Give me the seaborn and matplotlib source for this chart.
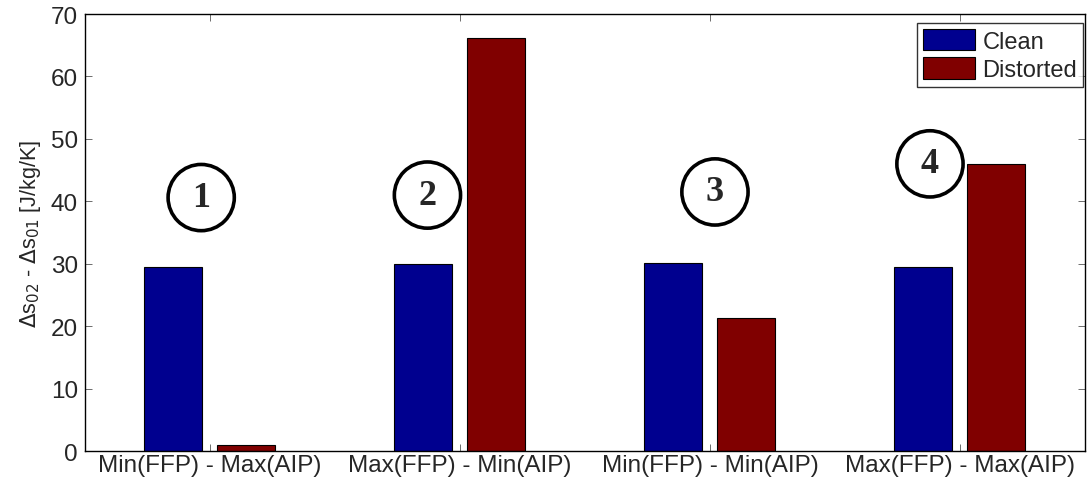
import matplotlib
matplotlib.use("Agg")
import matplotlib.pyplot as plt
import seaborn as sns
import pandas as pd

categories = ["Min(FFP) - Max(AIP)", "Max(FFP) - Min(AIP)", "Min(FFP) - Min(AIP)", "Max(FFP) - Max(AIP)"]
clean = [29.5, 30.0, 30.1, 29.5]
distorted = [0.9, 66.2, 21.3, 45.9]
series = ["Clean", "Distorted"]
labels = ["1", "2", "3", "4"]
label_x = [-0.035, 0.87, 2.02, 2.88]
label_y = [40.6, 41.0, 41.5, 46.0]
yticks = [0, 10, 20, 30, 40, 50, 60, 70]

df = pd.DataFrame({
    "category": categories * 2,
    "value": clean + distorted,
    "series": [series[0]] * 4 + [series[1]] * 4,
})

sns.set_style("white")
plt.rcParams["font.family"] = ["Liberation Sans", "DejaVu Sans"]

fig, ax = plt.subplots(figsize=(10.89, 4.85), dpi=100)
fig.subplots_adjust(left=0.078, right=0.9963, top=0.969, bottom=0.068)

sns.barplot(data=df, x="category", y="value", hue="series", order=categories,
            hue_order=series, palette=["#00008f", "#800000"], width=0.584, gap=0.205,
            edgecolor="black", linewidth=0.8, saturation=1, ax=ax)

ax.set_xlim(-0.5, 3.5)
ax.set_ylim(0, 70)
ax.set_yticks(yticks)
ax.set_xlabel("")
ax.set_ylabel(r"$\Delta$s$_{02}$ - $\Delta$s$_{01}$ [J/kg/K]", fontsize=15.5, labelpad=6)
ax.tick_params(axis="both", direction="in", length=5, width=0.6, color="#555555",
               labelsize=17.5, top=True, right=True, bottom=True, left=True, pad=5)
ax.tick_params(axis="x", pad=2)
for s in ax.spines.values():
    s.set_visible(True)
    s.set_color("black")
    s.set_linewidth(1.0)

for t, x, y in zip(labels, label_x, label_y):
    ax.text(x, y, t, ha="center", va="center", fontsize=26, fontweight="bold",
            family="Liberation Serif",
            bbox=dict(boxstyle="circle,pad=0.46", fc="none", ec="black", lw=2.6))

leg = ax.legend(loc="upper right", bbox_to_anchor=(0.998, 0.979), borderaxespad=0,
                fontsize=17, frameon=True, fancybox=False,
                edgecolor="black", handlelength=2.2, handleheight=1.0,
                handletextpad=0.3, borderpad=0.25, labelspacing=0.2)
leg.get_frame().set_linewidth(1.0)

fig.savefig("out.png", dpi=100)
